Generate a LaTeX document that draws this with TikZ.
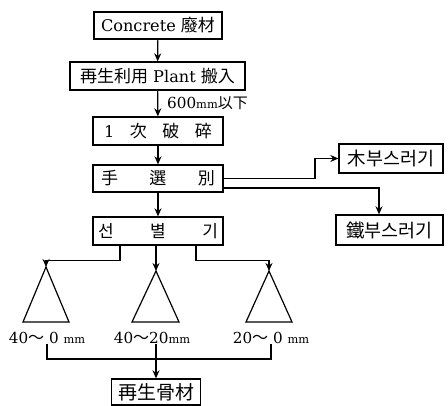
\documentclass[tikz,border=0pt]{standalone}
\usepackage{fontspec}
\setmainfont{DejaVu Serif}[Scale=0.95]
\newfontfamily\cjk{Noto Sans CJK KR}
\usetikzlibrary{arrows.meta, positioning}

\begin{document}
\begin{tikzpicture}[x=1pt, y=-1pt,
    box/.style={rectangle, draw, line width=1.3pt, inner sep=0pt, minimum height=28pt, align=center, font=\fontsize{17}{20}\selectfont},
    lab/.style={inner sep=0pt, font=\fontsize{16}{19}\selectfont},
    line/.style={line width=1.2pt},
    arrow/.style={line width=1.2pt, -{Stealth[length=8pt, width=7pt]}}
]
\useasboundingbox (0,0) rectangle (448,406);

\node[box, minimum width=128pt, minimum height=27pt] (waste) at (158,25.5) {Concrete {\cjk 廢材}};
\node[box, minimum width=175pt] (plant) at (157.5,76) {{\cjk 再生利用}\ Plant {\cjk 搬入}};
\node[box, minimum width=130pt] (crush) at (158,131) {\makebox[108pt]{1\hfill{\cjk 次}\hfill{\cjk 破}\hfill{\cjk 碎}}};
\node[box, minimum width=130pt, minimum height=27pt] (hand) at (158,178.5) {\cjk\makebox[114pt]{手\hfill 選\hfill 別}};
\node[box, minimum width=130pt] (sieve) at (158,231) {\cjk\makebox[120pt]{선\hfill 별\hfill 기}};

\node[box, minimum width=104pt, minimum height=29pt, font=\fontsize{18.5}{22}\selectfont] (wood) at (391,158.5) {\cjk 木부스러기};
\node[box, minimum width=107pt, minimum height=30pt, font=\fontsize{18.5}{22}\selectfont] (iron) at (389.5,230) {\cjk 鐵부스러기};

\node[lab, anchor=west] (limit) at (167,103) {600{\fontsize{12}{14}\selectfont mm}{\cjk\fontsize{15}{18}\selectfont 以下}};

\draw[arrow] (waste) -- (plant);
\draw[arrow] (plant) -- (crush);
\draw[arrow] (crush) -- (hand);
\draw[arrow] (hand) -- (sieve);
\draw[arrow] (hand.east) -- (315,178.5) |- (wood.west);
\draw[arrow] ([yshift=-9.5pt]hand.east) -| ([xshift=-10.5pt]iron.north);

% sieve outputs
\coordinate (apexA) at (46,267);
\coordinate (apexB) at (156,271);
\coordinate (apexC) at (269,271);
\draw[arrow] ([xshift=-38pt]sieve.south) -- ++(0,15) -| (apexA);
\draw[arrow] (sieve.south -| apexB) -- (apexB);
\draw[arrow] ([xshift=38pt]sieve.south) -- ++(0,15) -| (apexC);

\draw[line] (apexA) -- (23,322) -- (69,322) -- cycle;
\draw[line] (apexB) -- (132,322) -- (179,322) -- cycle;
\draw[line] (apexC) -- (246,322) -- (292,322) -- cycle;

\node[lab] (sizeA) at (47,338) {40{\cjk 〜} 0 {\fontsize{12}{14}\selectfont mm}};
\node[lab] (sizeB) at (152,338) {40{\cjk 〜}20{\fontsize{12}{14}\selectfont mm}};
\node[lab] (sizeC) at (271,338) {20{\cjk 〜} 0 {\fontsize{12}{14}\selectfont mm}};

\node[box, minimum width=89pt, minimum height=26pt, font=\fontsize{19}{22}\selectfont] (recyc) at (156,392) {\cjk 再生骨材};

\coordinate (merge) at (157,359);
\draw[line] (sizeA.south) |- (merge) -| (sizeC.south);
\draw[arrow] (sizeB.south -| recyc.north) -- (recyc.north);
\end{tikzpicture}
\end{document}
